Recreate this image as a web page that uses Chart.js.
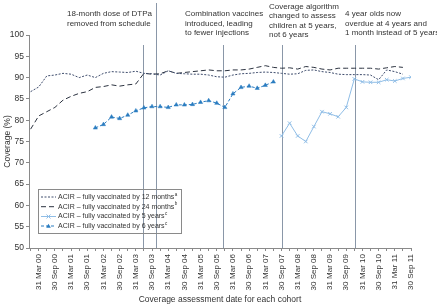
<!DOCTYPE html>
<html>
<head>
<meta charset="utf-8">
<script src="https://cdn.jsdelivr.net/npm/chart.js@4.4.0/dist/chart.umd.min.js"></script>
<style>
  html, body { margin: 0; padding: 0; background: #fff; }
</style>
</head>
<body>
<canvas id="coverageChart" width="437" height="305"></canvas>
<script>
// x values are quarter numbers: 0 = 31 Mar 00, 1 = 30 Jun 00, ...
const dateLabels = ['31 Mar 00', '30 Sep 00', '31 Mar 01', '30 Sep 01', '31 Mar 02', '30 Sep 02',
  '31 Mar 03', '30 Sep 03', '31 Mar 04', '30 Sep 04', '31 Mar 05', '30 Sep 05',
  '31 Mar 06', '30 Sep 06', '31 Mar 07', '30 Sep 07', '31 Mar 08', '30 Sep 08',
  '31 Mar 09', '30 Sep 09', '31 Mar 10', '30 Sep 10', '31 Mar 11', '30 Sep 11'];

const cov12mStart = -1;
const cov12m = [86.7, 87.8, 90.4, 90.6, 91.0, 90.8, 90.0, 90.6, 90.0, 91.0, 91.4, 91.3, 91.2, 91.5,
  91.0, 90.9, 90.6, 91.6, 91.0, 90.9, 90.8, 90.8, 90.6, 90.2, 90.1, 90.6, 90.9, 91.0, 91.2, 91.3,
  91.2, 91.0, 90.8, 90.9, 91.7, 91.8, 91.4, 91.2, 90.8, 90.7, 90.7, 90.7, 90.6, 89.5, 91.8, 91.4, 90.8];

const cov24mStart = -1;
const cov24m = [77.9, 81.0, 82.0, 83.0, 84.7, 85.6, 86.3, 86.7, 87.7, 87.9, 88.3, 88.0, 88.3, 88.5,
  91.0, 90.8, 90.9, 91.6, 91.0, 91.2, 91.4, 91.6, 91.8, 91.6, 91.6, 91.8, 91.8, 92.0, 92.4, 92.8,
  92.4, 92.2, 92.3, 92.0, 92.6, 92.4, 92.0, 91.8, 92.2, 92.2, 92.2, 92.2, 92.2, 92.0, 92.3, 92.6, 92.4];

const cov5yStart = 30;
const cov5y = [76.3, 79.3, 76.3, 75.0, 78.5, 82.0, 81.5, 80.8, 83.0,
  89.7, 89.0, 88.9, 88.9, 89.5, 89.2, 89.8, 90.1];

const cov6yStart = 7;
const cov6y = [78.2, 79.0, 80.75, 80.4, 81.2, 82.2, 82.9, 83.2, 83.2, 83.0, 83.6, 83.6, 83.7,
  84.2, 84.6, 84.0, 83.0, 86.2, 87.7, 88.0, 87.5, 88.2, 89.0];

// schedule / algorithm changes (quarter numbers)
const eventQuarters = [12.9, 14.5, 22.8, 30.05, 39.1];
const eventNotes = [
  ['18-month dose of DTPa', 'removed from schedule'],
  ['Combination vaccines', 'introduced, leading', 'to fewer injections'],
  ['Coverage algorithm', 'changed to assess', 'children at 5 years,', 'not 6 years'],
  ['4 year olds now', 'overdue at 4 years and', '1 month instead of 5 years']
];

const FONT = '"Liberation Sans", Arial, sans-serif';

function toPoints(start, values) {
  return values.map((v, i) => ({ x: start + i, y: v }));
}

const eventLines = {
  id: 'eventLines',
  beforeDatasetsDraw(chart) {
    const { ctx, scales: { x }, chartArea } = chart;
    const tops = [45, 3, 45, 45, 45];
    ctx.save();
    ctx.strokeStyle = '#8a97a8';
    ctx.lineWidth = 1;
    eventQuarters.forEach((q, i) => {
      const px = Math.round(x.getPixelForValue(q)) + 0.5;
      ctx.beginPath();
      ctx.moveTo(px, tops[i]);
      ctx.lineTo(px, chartArea.bottom);
      ctx.stroke();
    });

    const noteLeft = [67, 185, 269, 345];
    const noteTop = [14, 14, 6.5, 14];
    ctx.fillStyle = '#333';
    ctx.font = '8px ' + FONT;
    ctx.textBaseline = 'middle';
    ctx.textAlign = 'left';
    eventNotes.forEach((lines, i) => {
      lines.forEach((t, j) => ctx.fillText(t, noteLeft[i], noteTop[i] + j * 9.4));
    });
    ctx.restore();
  }
};

// small boxed legend in the lower left of the plot
const boxLegend = {
  id: 'boxLegend',
  afterDraw(chart) {
    const ctx = chart.ctx;
    ctx.save();
    ctx.strokeStyle = '#8a8a8a';
    ctx.lineWidth = 1;
    ctx.strokeRect(38.5, 189.5, 143, 44);
    const rows = [197, 206.7, 216.5, 226];
    const sup = ['a', 'b', 'c', 'c'];
    chart.data.datasets.forEach((ds, i) => {
      const y = rows[i];
      ctx.strokeStyle = ds.borderColor;
      ctx.lineWidth = 1;
      ctx.setLineDash(ds.borderDash || []);
      ctx.beginPath();
      ctx.moveTo(41, y);
      ctx.lineTo(56, y);
      ctx.stroke();
      ctx.setLineDash([]);
      if (ds.pointStyle === 'triangle') {
        ctx.fillStyle = ds.borderColor;
        ctx.beginPath();
        ctx.moveTo(48.5, y - 2.2);
        ctx.lineTo(50.8, y + 1.8);
        ctx.lineTo(46.2, y + 1.8);
        ctx.closePath();
        ctx.fill();
      } else if (ds.pointStyle === 'crossRot') {
        ctx.beginPath();
        ctx.moveTo(46.5, y - 2); ctx.lineTo(50.5, y + 2);
        ctx.moveTo(50.5, y - 2); ctx.lineTo(46.5, y + 2);
        ctx.stroke();
      }
      ctx.fillStyle = '#333';
      ctx.font = '7px ' + FONT;
      ctx.textBaseline = 'middle';
      ctx.fillText(ds.label, 58, y);
      const w = ctx.measureText(ds.label).width;
      ctx.font = '4.5px ' + FONT;
      ctx.fillText(sup[i], 58 + w + 0.5, y - 2.5);
    });
    ctx.restore();
  }
};

const quarterTicks = [];
for (let q = -1; q <= 46; q++) quarterTicks.push({ value: q });

const config = {
  type: 'line',
  data: {
    datasets: [
      {
        label: 'ACIR \u2013 fully vaccinated by 12 months',
        data: toPoints(cov12mStart, cov12m),
        borderColor: '#3e4c6c',
        borderWidth: 1,
        borderDash: [2, 1.5],
        pointRadius: 0
      },
      {
        label: 'ACIR \u2013 fully vaccinated by 24 months',
        data: toPoints(cov24mStart, cov24m),
        borderColor: '#2c3340',
        borderWidth: 1,
        borderDash: [5, 3],
        pointRadius: 0
      },
      {
        label: 'ACIR \u2013 fully vaccinated by 5 years',
        data: toPoints(cov5yStart, cov5y),
        borderColor: '#8fbde6',
        borderWidth: 1,
        pointStyle: 'crossRot',
        pointRadius: 2.5,
        pointBorderWidth: 1,
        pointBorderColor: '#8fbde6'
      },
      {
        label: 'ACIR \u2013 fully vaccinated by 6 years',
        data: toPoints(cov6yStart, cov6y),
        borderColor: '#2a7cc0',
        borderWidth: 1,
        borderDash: [3, 2],
        pointStyle: 'triangle',
        pointRadius: 2.4,
        pointBackgroundColor: '#2a7cc0',
        pointBorderColor: '#2a7cc0',
        pointBorderWidth: 0.5
      }
    ]
  },
  options: {
    responsive: false,
    animation: false,
    devicePixelRatio: 1,
    layout: { padding: { top: 35, right: 26, left: 0, bottom: 0 } },
    plugins: {
      legend: { display: false },
      tooltip: { enabled: false }
    },
    scales: {
      x: {
        type: 'linear',
        min: -1.2,
        max: 46,
        afterBuildTicks: (scale) => { scale.ticks = quarterTicks.map(t => ({ value: t.value })); },
        afterFit: (scale) => { scale.height = 57; },
        ticks: {
          autoSkip: false,
          minRotation: 90,
          maxRotation: 90,
          padding: 3,
          color: '#333',
          font: { size: 8, family: FONT },
          callback: (value) => (value >= 0 && value % 2 === 0) ? dateLabels[value / 2] : ''
        },
        grid: { drawOnChartArea: false, drawTicks: true, tickLength: 3, color: '#8a8a8a' },
        border: { color: '#8a8a8a' },
        title: {
          display: true,
          text: 'Coverage assessment date for each cohort',
          color: '#333',
          font: { size: 8.5, family: FONT },
          padding: { top: 2, bottom: 0 }
        }
      },
      y: {
        min: 50,
        max: 100,
        afterFit: (scale) => { scale.width = 29; },
        ticks: {
          stepSize: 5,
          padding: 2,
          color: '#333',
          font: { size: 8.5, family: FONT }
        },
        grid: { drawOnChartArea: false, drawTicks: true, tickLength: 3, color: '#8a8a8a' },
        border: { color: '#8a8a8a' },
        title: {
          display: true,
          text: 'Coverage (%)',
          color: '#333',
          font: { size: 8.5, family: FONT },
          padding: { top: 3, bottom: 0 }
        }
      }
    }
  },
  plugins: [eventLines, boxLegend]
};

new Chart(document.getElementById('coverageChart').getContext('2d'), config);
</script>
</body>
</html>
